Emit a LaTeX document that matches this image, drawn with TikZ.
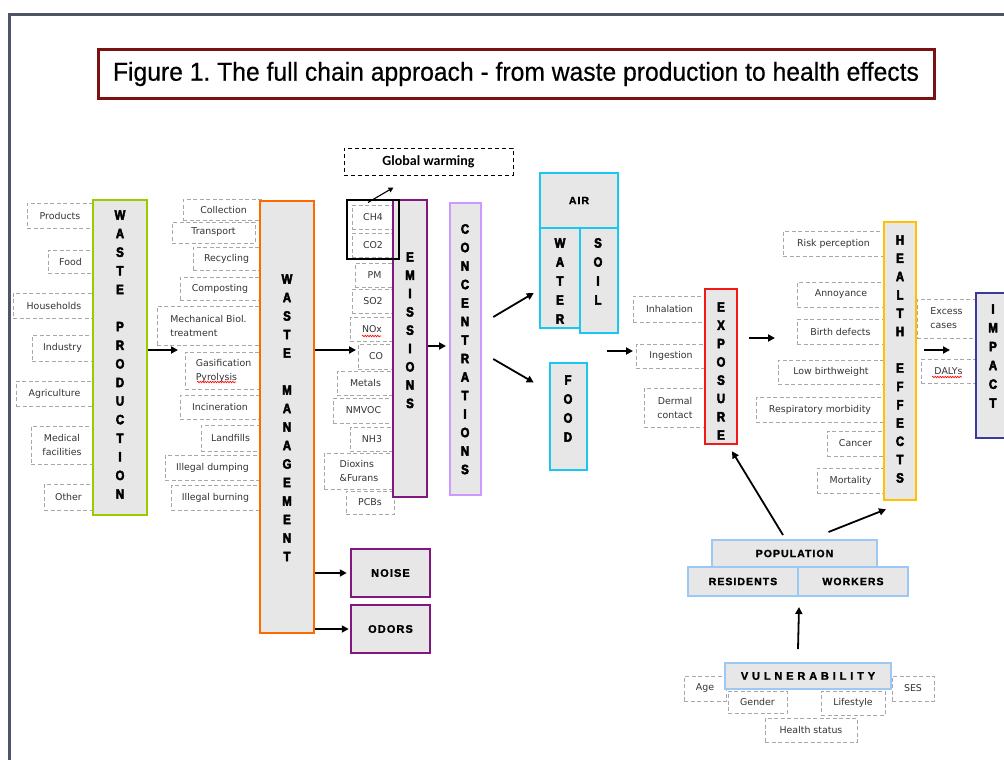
\documentclass[tikz,border=0pt]{standalone}
\usepackage{graphicx}
\usepackage{fontspec}
\setmainfont{DejaVu Sans}
\newfontfamily\heavyfont{Liberation Sans Bold}[FakeStretch=0.85,FakeBold=3.5]
\newfontfamily\capsfont{Liberation Sans Bold}[LetterSpace=10,FakeBold=1.5]
\newfontfamily\titlefont{Liberation Sans}[FakeBold=0.5]
\newfontfamily\gwfont{Carlito}
\usetikzlibrary{arrows.meta,calc,decorations.pathmorphing}
\frenchspacing

\definecolor{framec}{HTML}{4E5566}
\definecolor{titlered}{HTML}{7A1212}
\definecolor{boxfill}{HTML}{E7E7E7}
\definecolor{labgray}{HTML}{A8A8A8}
\definecolor{labtext}{HTML}{333333}
\definecolor{cwp}{HTML}{99CC00}
\definecolor{cwm}{HTML}{FF6A00}
\definecolor{cem}{HTML}{80187F}
\definecolor{cco}{HTML}{CC99FF}
\definecolor{cenv}{HTML}{19C8F0}
\definecolor{cex}{HTML}{F01818}
\definecolor{che}{HTML}{FFC000}
\definecolor{cim}{HTML}{3A3A9C}
\definecolor{cpop}{HTML}{9CC8F5}

\tikzset{
  lab/.style={draw=labgray, dash pattern=on 4pt off 2.5pt, line width=0.6pt,
    text=labtext, font=\fontsize{9.4}{14}\selectfont, inner sep=0pt},
  big/.style={draw, fill=boxfill, line width=2.5pt, inner sep=0pt},
  bigl/.style={font=\heavyfont\fontsize{13.5}{13.5}\selectfont, inner sep=0pt},
  capl/.style={font=\capsfont\fontsize{10.5}{10.5}\selectfont},
  arr/.style={line width=1.8pt, -{Triangle[length=7pt,width=7pt]}},
  gwarr/.style={line width=1.1pt, -{Triangle[length=5pt,width=5pt]}},
  spell/.style={red, line width=0.6pt, decorate,
    decoration={snake, amplitude=0.8pt, segment length=2.5pt}}
}

% dashed label box given by its corners
\newcommand\labbox[7][]{\node[lab,minimum width={(#5-#3)*1pt},minimum height={(#6-#4)*1pt},#1]
  (#2) at ({(#3+#5)/2},{(#4+#6)/2}) {#7};}
% grey stage box with coloured border, given by its corners
\newcommand\bigbox[8][]{\node[big,draw=#3,minimum width={(#6-#4)*1pt},minimum height={(#7-#5)*1pt},#1]
  (#2) at ({(#4+#6)/2},{(#5+#7)/2}) {#8};}
% word written downwards, one letter per row
\newcommand\stackword[5]{\foreach \l [count=\i] in {#5}{\node[bigl] (#1-\i) at (#2,{#3+(\i-1)*#4}) {\l};}}

\begin{document}
\begin{tikzpicture}[x=1pt,y=-1pt]
\useasboundingbox (0,0) rectangle (1004,760);
\clip (0,0) rectangle (1004,760);

% page frame
\draw[framec, line width=3pt] (9.5,760) -- (9.5,15) -- (1004,15);

% title
\node[draw=titlered, line width=3pt, minimum width=836pt, minimum height=48pt, inner sep=0pt] (title) at (516,74)
  {\resizebox{806pt}{\height}{\titlefont\fontsize{26}{26}\selectfont Figure 1. The full chain approach - from waste production to health effects}};

% ---------- sources of waste
\labbox{products}{27}{203}{93}{228}{Products}
\labbox{fooditem}{48}{250}{93}{273}{Food}
\labbox{households}{13}{293}{95}{318}{Households}
\labbox{industry}{32}{335}{93}{361}{Industry}
\labbox{agriculture}{16}{381}{93}{406}{Agriculture}
\labbox[align=center]{medical}{31}{426}{93}{464}{Medical\\facilities}
\labbox{other}{44}{484}{93}{510}{Other}

% ---------- management options
\labbox{collection}{183}{199}{264}{220}{Collection}
\labbox{transport}{172}{222}{255}{243}{Transport}
\labbox{recycling}{193}{247}{260}{270}{Recycling}
\labbox{composting}{180}{277}{260}{300}{Composting}
\labbox[align=left]{mbt}{157}{306}{260}{345}{Mechanical Biol.\\treatment}
\labbox[align=left]{gasif}{185}{352}{262}{389}{Gasification\\Pyrolysis}
\labbox{incin}{180}{395}{260}{419}{Incineration}
\labbox{landfills}{201}{425}{260}{451}{Landfills}
\labbox{dumping}{165}{455}{260}{480}{Illegal dumping}
\labbox{burning}{171}{485}{260}{510}{Illegal burning}

% ---------- pollutants
\labbox{ch4}{352}{205}{394}{229}{CH4}
\labbox{co2}{352}{233}{394}{257}{CO2}
\labbox{pm}{355}{263}{394}{287}{PM}
\labbox{so2}{352}{289}{394}{313}{SO2}
\labbox{nox}{350}{317}{394}{341}{NOx}
\labbox{coitem}{358}{344}{394}{369}{CO}
\labbox{metals}{337}{371}{394}{395}{Metals}
\labbox{nmvoc}{333}{398}{394}{423}{NMVOC}
\labbox{nh3}{350}{427}{394}{451}{NH3}
\labbox[align=left]{dioxins}{324}{453}{394}{489}{Dioxins\\\&Furans}
\labbox{pcbs}{346}{491}{394}{514}{PCBs}

% ---------- exposure routes
\labbox{inhal}{633}{296}{706}{322}{Inhalation}
\labbox{ingest}{636}{344}{706}{368}{Ingestion}
\labbox[align=center]{dermal}{644}{388}{706}{427}{Dermal\\contact}

% ---------- health outcomes
\labbox{risk}{783}{231}{884}{256}{Risk perception}
\labbox{annoy}{797}{282}{885}{307}{Annoyance}
\labbox{birth}{797}{319}{884}{344}{Birth defects}
\labbox{lbw}{778}{360}{884}{384}{Low birthweight}
\labbox{resp}{756}{397}{884}{422}{Respiratory morbidity}
\labbox{cancer}{827}{431}{884}{456}{Cancer}
\labbox{mort}{817}{468}{884}{493}{Mortality}

% ---------- impact measures
\labbox[align=left]{excess}{917}{299}{976}{338}{Excess\\cases}
\labbox{dalys}{921}{359}{976}{383}{DALYs}

% ---------- vulnerability factors
\labbox{age}{684}{676}{726}{701}{Age}
\labbox{gender}{728}{691}{787}{713}{Gender}
\labbox{lifestyle}{821}{691}{885}{715}{Lifestyle}
\labbox{ses}{892}{676}{934}{701}{SES}
\labbox{healthst}{765}{718}{857}{742}{Health status}

% ---------- chain stages
\bigbox{wp}{cwp}{93}{200}{147}{515}{}
\bigbox{wm}{cwm}{260}{201}{314}{633}{}
\bigbox{em}{cem}{393}{200}{427}{497}{}
\bigbox{conc}{cco}{450}{203}{481}{495}{}
\bigbox[capl]{air}{cenv}{540}{173}{618}{228}{AIR}
\bigbox{water}{cenv}{540}{228}{580}{328}{}
\bigbox{soil}{cenv}{580}{228}{618}{333}{}
\bigbox{foodbox}{cenv}{550}{363}{587}{470}{}
\bigbox{expo}{cex}{705}{289}{737}{444}{}
\bigbox{he}{che}{884}{222}{916}{500}{}
\bigbox{imp}{cim}{976}{293}{1022}{438}{}
\bigbox[capl,font=\capsfont\fontsize{11}{11}\selectfont]{noise}{cem}{351}{549}{430}{597}{NOISE}
\bigbox[capl,font=\capsfont\fontsize{11}{11}\selectfont]{odors}{cem}{351}{605}{430}{653}{ODORS}
\bigbox[capl,line width=2pt]{pop}{cpop}{712}{540}{877}{567}{POPULATION}
\bigbox[capl,line width=2pt]{res}{cpop}{688}{567}{798}{596}{RESIDENTS}
\bigbox[capl,line width=2pt]{wrk}{cpop}{798}{567}{908}{596}{WORKERS}
\bigbox[line width=2pt,font={\capsfont\fontsize{11}{11}\selectfont\addfontfeature{LetterSpace=35}}]{vul}{cpop}{725}{663}{891}{689}{VULNERABILITY}

% greenhouse gases and their effect
\node[draw, line width=1.1pt, minimum width=52pt, minimum height=59pt, inner sep=0pt] (ghg) at (373,229.5) {};
\node[draw, dash pattern=on 4pt off 3pt, line width=1pt, minimum width=169pt, minimum height=27pt, inner sep=0pt,
  font=\gwfont\bfseries\fontsize{14}{14}\selectfont] (gw) at (428.5,161.5) {Global warming};

% ---------- stage names, written downwards
\stackword{wpt}{120}{215}{18.6}{W,A,S,T,E,{},P,R,O,D,U,C,T,I,O,N}
\stackword{wmt}{287}{279}{18.5}{W,A,S,T,E,{},M,A,N,A,G,E,M,E,N,T}
\stackword{emt}{410}{257}{18.3}{E,M,I,S,S,I,O,N,S}
\stackword{cot}{465}{229}{18.5}{C,O,N,C,E,N,T,R,A,T,I,O,N,S}
\stackword{wat}{560}{243}{19}{W,A,T,E,R}
\stackword{sot}{598}{243}{19}{S,O,I,L}
\stackword{fot}{568}{380}{19}{F,O,O,D}
\stackword{ext}{721}{307}{18.3}{E,X,P,O,S,U,R,E}
\stackword{het}{900}{240}{18.3}{H,E,A,L,T,H,{},E,F,F,E,C,T,S}
\stackword{imt}{993}{309}{18.8}{I,M,P,A,C,T}

% ---------- connectors
\coordinate (wmin) at (178,350);
\draw[arr] (wp.east |- wmin) -- (wmin);
\coordinate (emin) at (356,350);
\draw[arr] (wm.east |- emin) -- (emin);
\coordinate (concin) at (446,346);
\draw[arr] (em.east |- concin) -- (concin);
\draw[arr] ($(conc.east)+(11,-32)$) -- ($(water.west)+(-5,15)$);
\draw[arr] ($(conc.east)+(11,10)$) -- ($(foodbox.west)+(-15,-34)$);
\coordinate (exsrc) at (607,351);
\coordinate (exin) at (633,351);
\draw[arr] (exsrc) -- (exin);
\coordinate (hein) at (775,338);
\draw[arr, shorten <=11pt] (expo.east |- hein) -- (hein);
\coordinate (imin) at (950,350);
\draw[arr, shorten <=7pt] (he.east |- imin) -- (imin);
\draw[arr] (wm.east |- noise.west) -- ($(noise.west)+(-3,0)$);
\draw[arr] (wm.east |- odors.west) -- ($(odors.west)+(-1,0)$);
\draw[arr] ($(pop.north)+(-11.5,-4)$) -- ($(expo.south)+(11,6)$);
\draw[arr] ($(pop.north)+(34,-7)$) -- ($(he.south)+(-14,8)$);
\draw[arr] ($(vul.north)+(-10,-13)$) -- ($(res.south east)+(0,10)$);
\draw[gwarr] ($(ghg.north)+(-5,3)$) -- ($(gw.south)+(-35,12)$);

% spell-check underlines
\draw[spell] (197,382) -- (236,382);
\draw[spell] (362,336) -- (381,336);
\draw[spell] (932,377) -- (962,377);
\end{tikzpicture}
\end{document}
